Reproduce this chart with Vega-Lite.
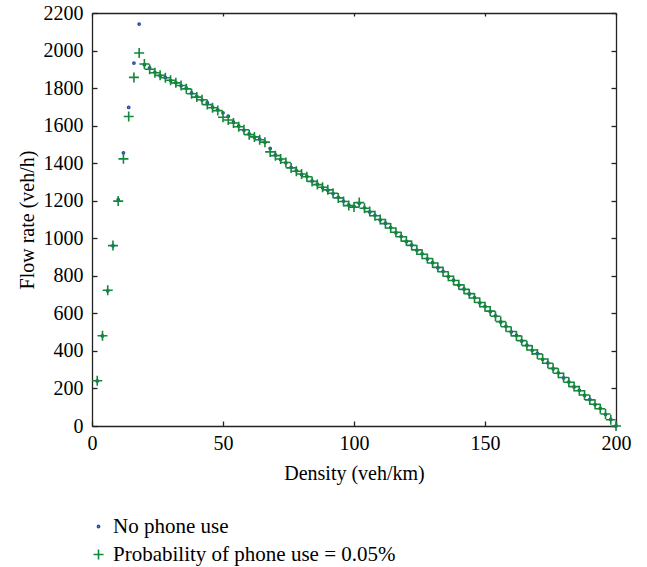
{
"$schema":"https://vega.github.io/schema/vega-lite/v6.json",
"width":524,"height":413,
"autosize":"none",
"padding":{"left":92,"top":13,"right":31,"bottom":141},
"background":"white",
"config":{"font":"Liberation Serif, Times New Roman, serif","view":{"stroke":null},
 "axis":{"domainColor":"#222","domainWidth":1.3,"tickColor":"#222","tickWidth":1.3,"labelColor":"black","titleColor":"black","labelFont":"Liberation Serif, Times New Roman, serif","titleFont":"Liberation Serif, Times New Roman, serif","labelFontSize":20,"titleFontSize":20,"titleFontWeight":"normal","grid":false,"labelOverlap":false,"labelFlush":false}},
"data":{"values":[
{"x":2,"y":240,"s":"No phone use"},{"x":4,"y":480,"s":"No phone use"},{"x":6,"y":720,"s":"No phone use"},{"x":8,"y":960,"s":"No phone use"},{"x":10,"y":1205,"s":"No phone use"},{"x":12,"y":1455,"s":"No phone use"},{"x":14,"y":1697,"s":"No phone use"},{"x":16,"y":1933,"s":"No phone use"},{"x":18,"y":2141,"s":"No phone use"},
{"x":20,"y":1925,"s":"No phone use"},{"x":22,"y":1908,"s":"No phone use"},{"x":24,"y":1884,"s":"No phone use"},{"x":26,"y":1866,"s":"No phone use"},{"x":28,"y":1857,"s":"No phone use"},{"x":30,"y":1840,"s":"No phone use"},{"x":32,"y":1829,"s":"No phone use"},{"x":34,"y":1812,"s":"No phone use"},{"x":36,"y":1800,"s":"No phone use"},{"x":38,"y":1774,"s":"No phone use"},{"x":40,"y":1755,"s":"No phone use"},{"x":42,"y":1736,"s":"No phone use"},{"x":44,"y":1722,"s":"No phone use"},{"x":46,"y":1698,"s":"No phone use"},{"x":48,"y":1684,"s":"No phone use"},{"x":50,"y":1668,"s":"No phone use"},{"x":52,"y":1650,"s":"No phone use"},{"x":54,"y":1618,"s":"No phone use"},{"x":56,"y":1598,"s":"No phone use"},{"x":58,"y":1576,"s":"No phone use"},{"x":60,"y":1556,"s":"No phone use"},{"x":62,"y":1538,"s":"No phone use"},{"x":64,"y":1528,"s":"No phone use"},{"x":66,"y":1512,"s":"No phone use"},{"x":68,"y":1478,"s":"No phone use"},{"x":70,"y":1444,"s":"No phone use"},{"x":72,"y":1420,"s":"No phone use"},{"x":74,"y":1402,"s":"No phone use"},{"x":76,"y":1378,"s":"No phone use"},{"x":78,"y":1360,"s":"No phone use"},{"x":80,"y":1340,"s":"No phone use"},{"x":82,"y":1330,"s":"No phone use"},{"x":84,"y":1305,"s":"No phone use"},{"x":86,"y":1288,"s":"No phone use"},{"x":88,"y":1270,"s":"No phone use"},{"x":90,"y":1256,"s":"No phone use"},{"x":92,"y":1238,"s":"No phone use"},{"x":94,"y":1218,"s":"No phone use"},{"x":96,"y":1198,"s":"No phone use"},{"x":98,"y":1178,"s":"No phone use"},{"x":100,"y":1170,"s":"No phone use"},{"x":102,"y":1186,"s":"No phone use"},{"x":104,"y":1162,"s":"No phone use"},{"x":106,"y":1140,"s":"No phone use"},{"x":108,"y":1122,"s":"No phone use"},{"x":110,"y":1098,"s":"No phone use"},{"x":112,"y":1080,"s":"No phone use"},{"x":114,"y":1057,"s":"No phone use"},{"x":116,"y":1030,"s":"No phone use"},{"x":118,"y":1010,"s":"No phone use"},{"x":120,"y":983,"s":"No phone use"},{"x":122,"y":964,"s":"No phone use"},{"x":124,"y":936,"s":"No phone use"},{"x":126,"y":917,"s":"No phone use"},{"x":128,"y":890,"s":"No phone use"},{"x":130,"y":870,"s":"No phone use"},{"x":132,"y":843,"s":"No phone use"},{"x":134,"y":824,"s":"No phone use"},{"x":136,"y":796,"s":"No phone use"},{"x":138,"y":777,"s":"No phone use"},{"x":140,"y":750,"s":"No phone use"},{"x":142,"y":730,"s":"No phone use"},{"x":144,"y":703,"s":"No phone use"},{"x":146,"y":684,"s":"No phone use"},{"x":148,"y":656,"s":"No phone use"},{"x":150,"y":637,"s":"No phone use"},{"x":152,"y":610,"s":"No phone use"},{"x":154,"y":587,"s":"No phone use"},{"x":156,"y":554,"s":"No phone use"},{"x":158,"y":531,"s":"No phone use"},{"x":160,"y":501,"s":"No phone use"},{"x":162,"y":482,"s":"No phone use"},{"x":164,"y":453,"s":"No phone use"},{"x":166,"y":430,"s":"No phone use"},{"x":168,"y":403,"s":"No phone use"},{"x":170,"y":386,"s":"No phone use"},{"x":172,"y":355,"s":"No phone use"},{"x":174,"y":336,"s":"No phone use"},{"x":176,"y":305,"s":"No phone use"},{"x":178,"y":283,"s":"No phone use"},{"x":180,"y":256,"s":"No phone use"},{"x":182,"y":235,"s":"No phone use"},{"x":184,"y":208,"s":"No phone use"},{"x":186,"y":190,"s":"No phone use"},{"x":188,"y":163,"s":"No phone use"},{"x":190,"y":141,"s":"No phone use"},{"x":192,"y":114,"s":"No phone use"},{"x":194,"y":94,"s":"No phone use"},{"x":196,"y":62,"s":"No phone use"},{"x":198,"y":35,"s":"No phone use"},{"x":200,"y":0,"s":"No phone use"},
{"x":2,"y":241,"s":"Probability of phone use = 0.05%"},{"x":4,"y":481,"s":"Probability of phone use = 0.05%"},{"x":6,"y":723,"s":"Probability of phone use = 0.05%"},{"x":8,"y":961,"s":"Probability of phone use = 0.05%"},{"x":10,"y":1198,"s":"Probability of phone use = 0.05%"},{"x":12,"y":1423,"s":"Probability of phone use = 0.05%"},{"x":14,"y":1649,"s":"Probability of phone use = 0.05%"},{"x":16,"y":1857,"s":"Probability of phone use = 0.05%"},{"x":18,"y":1987,"s":"Probability of phone use = 0.05%"},
{"x":20,"y":1928,"s":"Probability of phone use = 0.05%"},{"x":22,"y":1900,"s":"Probability of phone use = 0.05%"},{"x":24,"y":1882,"s":"Probability of phone use = 0.05%"},{"x":26,"y":1868,"s":"Probability of phone use = 0.05%"},{"x":28,"y":1855,"s":"Probability of phone use = 0.05%"},{"x":30,"y":1842,"s":"Probability of phone use = 0.05%"},{"x":32,"y":1828,"s":"Probability of phone use = 0.05%"},{"x":34,"y":1814,"s":"Probability of phone use = 0.05%"},{"x":36,"y":1796,"s":"Probability of phone use = 0.05%"},{"x":38,"y":1770,"s":"Probability of phone use = 0.05%"},{"x":40,"y":1752,"s":"Probability of phone use = 0.05%"},{"x":42,"y":1738,"s":"Probability of phone use = 0.05%"},{"x":44,"y":1712,"s":"Probability of phone use = 0.05%"},{"x":46,"y":1695,"s":"Probability of phone use = 0.05%"},{"x":48,"y":1680,"s":"Probability of phone use = 0.05%"},{"x":50,"y":1645,"s":"Probability of phone use = 0.05%"},{"x":52,"y":1630,"s":"Probability of phone use = 0.05%"},{"x":54,"y":1614,"s":"Probability of phone use = 0.05%"},{"x":56,"y":1594,"s":"Probability of phone use = 0.05%"},{"x":58,"y":1578,"s":"Probability of phone use = 0.05%"},{"x":60,"y":1552,"s":"Probability of phone use = 0.05%"},{"x":62,"y":1540,"s":"Probability of phone use = 0.05%"},{"x":64,"y":1525,"s":"Probability of phone use = 0.05%"},{"x":66,"y":1512,"s":"Probability of phone use = 0.05%"},{"x":68,"y":1460,"s":"Probability of phone use = 0.05%"},{"x":70,"y":1440,"s":"Probability of phone use = 0.05%"},{"x":72,"y":1422,"s":"Probability of phone use = 0.05%"},{"x":74,"y":1404,"s":"Probability of phone use = 0.05%"},{"x":76,"y":1375,"s":"Probability of phone use = 0.05%"},{"x":78,"y":1357,"s":"Probability of phone use = 0.05%"},{"x":80,"y":1342,"s":"Probability of phone use = 0.05%"},{"x":82,"y":1328,"s":"Probability of phone use = 0.05%"},{"x":84,"y":1303,"s":"Probability of phone use = 0.05%"},{"x":86,"y":1286,"s":"Probability of phone use = 0.05%"},{"x":88,"y":1272,"s":"Probability of phone use = 0.05%"},{"x":90,"y":1258,"s":"Probability of phone use = 0.05%"},{"x":92,"y":1240,"s":"Probability of phone use = 0.05%"},{"x":94,"y":1215,"s":"Probability of phone use = 0.05%"},{"x":96,"y":1196,"s":"Probability of phone use = 0.05%"},{"x":98,"y":1174,"s":"Probability of phone use = 0.05%"},{"x":100,"y":1166,"s":"Probability of phone use = 0.05%"},{"x":102,"y":1190,"s":"Probability of phone use = 0.05%"},{"x":104,"y":1160,"s":"Probability of phone use = 0.05%"},{"x":106,"y":1142,"s":"Probability of phone use = 0.05%"},{"x":108,"y":1120,"s":"Probability of phone use = 0.05%"},{"x":110,"y":1100,"s":"Probability of phone use = 0.05%"},{"x":112,"y":1078,"s":"Probability of phone use = 0.05%"},{"x":114,"y":1055,"s":"Probability of phone use = 0.05%"},{"x":116,"y":1032,"s":"Probability of phone use = 0.05%"},{"x":118,"y":1008,"s":"Probability of phone use = 0.05%"},{"x":120,"y":985,"s":"Probability of phone use = 0.05%"},{"x":122,"y":962,"s":"Probability of phone use = 0.05%"},{"x":124,"y":938,"s":"Probability of phone use = 0.05%"},{"x":126,"y":915,"s":"Probability of phone use = 0.05%"},{"x":128,"y":892,"s":"Probability of phone use = 0.05%"},{"x":130,"y":868,"s":"Probability of phone use = 0.05%"},{"x":132,"y":845,"s":"Probability of phone use = 0.05%"},{"x":134,"y":822,"s":"Probability of phone use = 0.05%"},{"x":136,"y":798,"s":"Probability of phone use = 0.05%"},{"x":138,"y":775,"s":"Probability of phone use = 0.05%"},{"x":140,"y":752,"s":"Probability of phone use = 0.05%"},{"x":142,"y":728,"s":"Probability of phone use = 0.05%"},{"x":144,"y":705,"s":"Probability of phone use = 0.05%"},{"x":146,"y":682,"s":"Probability of phone use = 0.05%"},{"x":148,"y":658,"s":"Probability of phone use = 0.05%"},{"x":150,"y":635,"s":"Probability of phone use = 0.05%"},{"x":152,"y":612,"s":"Probability of phone use = 0.05%"},{"x":154,"y":585,"s":"Probability of phone use = 0.05%"},{"x":156,"y":556,"s":"Probability of phone use = 0.05%"},{"x":158,"y":529,"s":"Probability of phone use = 0.05%"},{"x":160,"y":503,"s":"Probability of phone use = 0.05%"},{"x":162,"y":480,"s":"Probability of phone use = 0.05%"},{"x":164,"y":455,"s":"Probability of phone use = 0.05%"},{"x":166,"y":428,"s":"Probability of phone use = 0.05%"},{"x":168,"y":405,"s":"Probability of phone use = 0.05%"},{"x":170,"y":384,"s":"Probability of phone use = 0.05%"},{"x":172,"y":357,"s":"Probability of phone use = 0.05%"},{"x":174,"y":334,"s":"Probability of phone use = 0.05%"},{"x":176,"y":307,"s":"Probability of phone use = 0.05%"},{"x":178,"y":281,"s":"Probability of phone use = 0.05%"},{"x":180,"y":258,"s":"Probability of phone use = 0.05%"},{"x":182,"y":233,"s":"Probability of phone use = 0.05%"},{"x":184,"y":210,"s":"Probability of phone use = 0.05%"},{"x":186,"y":188,"s":"Probability of phone use = 0.05%"},{"x":188,"y":165,"s":"Probability of phone use = 0.05%"},{"x":190,"y":139,"s":"Probability of phone use = 0.05%"},{"x":192,"y":116,"s":"Probability of phone use = 0.05%"},{"x":194,"y":92,"s":"Probability of phone use = 0.05%"},{"x":196,"y":64,"s":"Probability of phone use = 0.05%"},{"x":198,"y":33,"s":"Probability of phone use = 0.05%"},{"x":200,"y":0,"s":"Probability of phone use = 0.05%"}
]},
"layer":[
 {"mark":{"type":"point","filled":false,"strokeWidth":1.6,"opacity":1},
  "encoding":{
   "x":{"field":"x","type":"quantitative","scale":{"domain":[0,200],"nice":false},
        "axis":{"orient":"bottom","values":[0,50,100,150,200],"format":"d","tickSize":-5,"labelPadding":12,"title":"Density (veh/km)","titlePadding":10}},
   "y":{"field":"y","type":"quantitative","scale":{"domain":[0,2200],"nice":false},
        "axis":{"orient":"left","values":[0,200,400,600,800,1000,1200,1400,1600,1800,2000,2200],"format":"d","tickSize":-5,"labelPadding":14,"title":"Flow rate (veh/h)","titlePadding":6}},
   "color":{"field":"s","type":"nominal","scale":{"domain":["No phone use","Probability of phone use = 0.05%"],"range":["#2a4ea6","#13873a"]},
     "legend":{"title":null,"orient":"none","legendX":-4,"legendY":503,"labelFontSize":21,"labelFont":"Liberation Serif, Times New Roman, serif","labelColor":"black","labelOffset":4,"rowPadding":6,"symbolStrokeWidth":1.6,"labelLimit":500}},
   "shape":{"field":"s","type":"nominal","scale":{"domain":["No phone use","Probability of phone use = 0.05%"],"range":["circle","M-1,0H1M0,-1V1"]}},
   "size":{"field":"s","type":"nominal","scale":{"domain":["No phone use","Probability of phone use = 0.05%"],"range":[5,100]}}
  }},
 {"mark":{"type":"point","opacity":0},
  "encoding":{
   "x":{"field":"x","type":"quantitative","axis":{"orient":"top","values":[0,50,100,150,200],"tickSize":-3,"labels":false,"title":null}},
   "y":{"field":"y","type":"quantitative","axis":{"orient":"right","values":[0,200,400,600,800,1000,1200,1400,1600,1800,2000,2200],"tickSize":-5,"labels":false,"title":null}}
  }}
],
"resolve":{"axis":{"x":"independent","y":"independent"}}
}
